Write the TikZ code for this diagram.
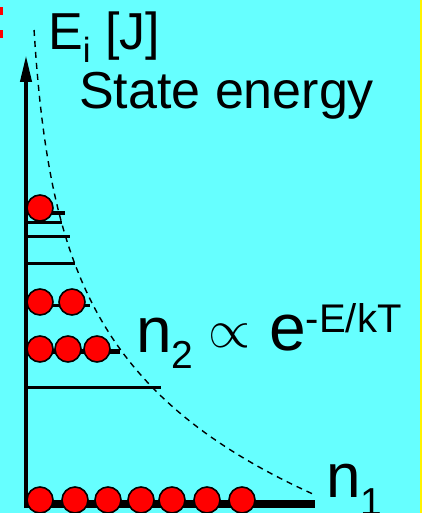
\documentclass[tikz,border=0pt]{standalone}
\usepackage{fontspec}
\setmainfont{Liberation Sans}
\usetikzlibrary{arrows.meta}
\definecolor{bgcyan}{HTML}{66FFFF}
\tikzset{
  level/.style={line width=3pt},
  ball/.style={circle, fill=red, draw=black, line width=1.6pt, minimum size=26pt, inner sep=0pt},
  dashcurve/.style={line width=1.4pt, dash pattern=on 6pt off 5pt},
  lbl/.style={anchor=base west, inner sep=0pt, text=black}
}
\begin{document}
\begin{tikzpicture}[x=1pt,y=-1pt]
  \fill[bgcyan] (0,0) rectangle (422,513);
  \useasboundingbox (0,0) rectangle (422,513);
  \clip (0,0) rectangle (422,513);
  \fill[yellow] (419.5,0) rectangle (422,513);
  \fill[red] (0,7) rectangle (3,15);
  \fill[red] (0,30) rectangle (3,38);

  % dashed Boltzmann curve
  \draw[dashcurve] plot[domain=30:495, samples=90, variable=\t] ({26+289*exp(-(495-\t)/130)}, \t);

  % energy levels
  \draw[line width=4pt] (26,213) -- (65,213);
  \draw[level] (26,222) -- (62,222);
  \draw[level] (26,236) -- (70,236);
  \draw[level] (26,263) -- (75,263);
  \draw[level] (26,305) -- (90,305);
  \draw[line width=5pt] (26,351) -- (120,351);
  \draw[level] (26,387) -- (161,387);
  \draw[line width=8pt] (26,504) -- (315,504);

  % axis
  \draw[line width=4pt, -{Triangle[width=11pt,length=27pt]}] (26,508) -- (26,55);

  % particles
  \node[ball] (b1) at (40,208) {};
  \node[ball] (c1) at (40,302) {};
  \node[ball] (c2) at (72,302) {};
  \node[ball] (d1) at (40,349) {};
  \node[ball] (d2) at (68,349) {};
  \node[ball] (d3) at (97,349) {};
  \node[ball] (g1) at (40,500) {};
  \node[ball] (g2) at (75,500) {};
  \node[ball] (g3) at (108,500) {};
  \node[ball] (g4) at (141,500) {};
  \node[ball] (g5) at (172,500) {};
  \node[ball] (g6) at (207,500) {};
  \node[ball] (g7) at (242,500) {};

  % texts
  \node[lbl, font=\fontsize{52}{60}\selectfont] (ei) at (48,50)
    {E\raisebox{-13pt}{\fontsize{35}{40}\selectfont i} [J]};
  \node[lbl, font=\fontsize{52}{60}\selectfont] (se) at (79,109) {State energy};
  \node[lbl, font=\fontsize{64}{70}\selectfont] (n2) at (136,352)
    {n\raisebox{-16pt}{\fontsize{39}{44}\selectfont 2}};
  \node[inner sep=0pt] (prop) at (229,336) {\scalebox{5.4}{$\propto$}};
  \node[lbl, font=\fontsize{66}{72}\selectfont] (ex) at (269,350)
    {e\raisebox{18pt}{\fontsize{40}{44}\selectfont -E/kT}};
  \node[lbl, font=\fontsize{62}{70}\selectfont] (n1) at (326,497)
    {n\raisebox{-18pt}{\fontsize{39}{44}\selectfont 1}};
\end{tikzpicture}
\end{document}
